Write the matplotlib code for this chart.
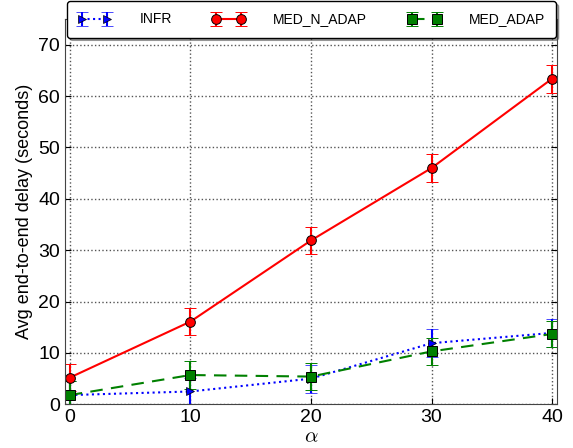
import numpy as np
from matplotlib import pyplot as plt

plt.rcParams['font.family'] = ['Liberation Sans', 'DejaVu Sans']
plt.rcParams['mathtext.fontset'] = 'cm'

alpha = [0, 10, 20, 30, 40]
infr = [1.8, 2.5, 5.0, 11.9, 13.9]
infr_err = [2.7, 2.7, 2.7, 2.7, 2.75]
med_n_adap = [5.2, 16.1, 31.9, 46.0, 63.4]
med_n_adap_err = [2.7, 2.7, 2.7, 2.7, 2.7]
med_adap = [1.8, 5.7, 5.4, 10.3, 13.7]
med_adap_err = [2.8, 2.8, 2.7, 2.7, 2.6]

fig = plt.figure(figsize=(5.73, 4.48), dpi=100)
ax = fig.add_axes([0.1134, 0.0975, 0.8586, 0.86])

ax.errorbar(alpha, infr, yerr=infr_err, fmt='>:', color='b', lw=1.5,
            ms=6, mec='k', mew=0.5, capsize=4, capthick=1.5, elinewidth=1.5,
            label='INFR')
ax.errorbar(alpha, med_n_adap, yerr=med_n_adap_err, fmt='o-', color='r', lw=1.5,
            ms=7, mec='k', mew=0.7, capsize=4, capthick=1.5, elinewidth=1.5,
            label='MED_N_ADAP')
ax.errorbar(alpha, med_adap, yerr=med_adap_err, fmt='s--', color='g', lw=1.5,
            ms=7, mec='k', mew=0.7, capsize=4, capthick=1.5, elinewidth=1.5,
            label='MED_ADAP', dashes=(6, 4))

ax.set_xlim(-0.4, 40.4)
ax.set_ylim(0, 75)
ax.set_xticks(alpha)
ax.set_yticks(range(0, 71, 10))
ax.tick_params(direction='in', top=True, right=True, labelsize=14, length=4)
ax.grid(True, ls=':', color='#555555', lw=1)
for s in ax.spines.values():
    s.set_color('#444444')

ax.set_xlabel(r'$\alpha$', fontsize=15, labelpad=1)
ax.set_ylabel('Avg end-to-end delay (seconds)', fontsize=13)

fig.legend(loc='upper center', bbox_to_anchor=(0.5436, 0.997),
           borderaxespad=0, ncol=3, fontsize=10, handlelength=2.4, numpoints=2,
           borderpad=0.8, handletextpad=2.0, columnspacing=2.9,
           fancybox=True, shadow=True, framealpha=1, edgecolor='k')

fig.savefig('out.png', dpi=100)
